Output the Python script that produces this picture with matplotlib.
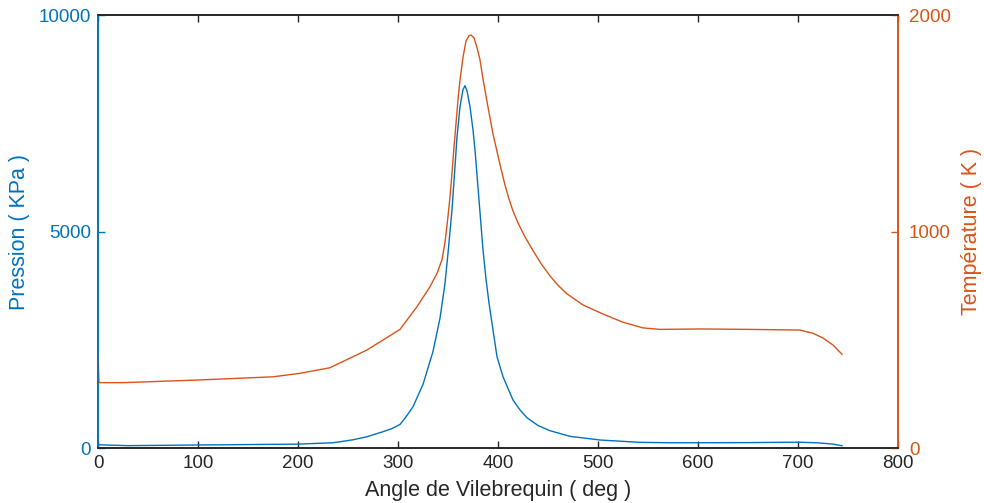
import matplotlib
matplotlib.use("Agg")
import matplotlib.pyplot as plt

plt.rcParams['font.family'] = ['Liberation Sans', 'DejaVu Sans']

# pression (kPa) vs angle
angle_p = [0, 30, 100, 200, 235, 255, 269, 285, 294, 302, 308, 315, 325, 335, 342, 347, 350, 354,
           357, 359, 362, 365, 367, 369, 372, 375, 377, 381, 385, 388, 391, 394, 399,
           405, 415, 422, 429, 440, 452, 472, 502, 542, 572, 600, 650, 700, 720, 735, 744]
pression = [75, 55, 70, 90, 122, 190, 261, 377, 450, 545, 720, 954, 1470, 2230, 3000, 3800, 4500, 5500,
            6500, 7191, 7884, 8280, 8369, 8250, 7884, 7346, 6884, 5729, 4574, 3900, 3350, 2880, 2109,
            1647, 1109, 880, 700, 520, 400, 270, 185, 131, 122, 122, 125, 135, 120, 90, 53]

# temperature (K) vs angle
angle_t = [0, 1, 25, 99, 175, 202, 232, 269, 285, 302, 319, 332, 339, 344, 347, 350,
           352, 354, 356, 358, 360, 362, 365, 368, 371, 373, 376, 379, 382, 385, 389,
           395, 399, 403, 407, 411, 415, 420, 427, 435, 443, 452, 460, 469, 485, 505, 525,
           545, 562, 602, 652, 702, 715, 725, 735, 744]
temperature = [434, 302, 302, 314, 329, 345, 371, 453, 499, 548, 653, 745, 807, 870, 950, 1070,
               1160, 1270, 1390, 1500, 1610, 1700, 1805, 1880, 1905, 1908, 1895, 1850, 1793, 1705, 1600,
               1450, 1370, 1290, 1215, 1150, 1095, 1040, 975, 912, 852, 795, 752, 712, 661, 619, 581,
               555, 548, 550, 548, 545, 530, 508, 476, 433]

blue = '#0072BD'
orange = '#D95319'
dark = '#262626'

fig = plt.figure(figsize=(9.84, 5.03), dpi=100)
ax = fig.add_axes([0.0996, 0.1093, 0.8130, 0.8607])
ax2 = ax.twinx()

ax.plot(angle_p, pression, color=blue, linewidth=1.0)
ax2.plot(angle_t, temperature, color=orange, linewidth=1.0)

ax.set_xlim(0, 800)
ax.set_ylim(0, 10000)
ax2.set_ylim(0, 2000)
ax.set_xticks(range(0, 801, 100))
ax.set_yticks([0, 5000, 10000])
ax2.set_yticks([0, 1000, 2000])

ax.tick_params(axis='x', direction='in', top=True, colors=dark, labelsize=13.5, length=5, width=1, pad=5)
ax.tick_params(axis='y', direction='in', colors=blue, labelsize=13.5, length=5, width=1, pad=5)
ax2.tick_params(axis='y', direction='in', colors=orange, labelsize=13.5, length=5, width=1, pad=8)

for a in (ax, ax2):
    a.spines['top'].set_color(dark)
    a.spines['bottom'].set_color(dark)
    a.spines['left'].set_color(blue)
    a.spines['right'].set_color(orange)
    for s in a.spines.values():
        s.set_linewidth(1.2)

ax.set_xlabel('Angle de Vilebrequin ( deg )', fontsize=15.5, color=dark, labelpad=6)
ax.set_ylabel('Pression ( KPa )', fontsize=15.5, color=blue, labelpad=6)
ax2.set_ylabel('Température ( K )', fontsize=15.5, color=orange, labelpad=7)

fig.savefig('out.png', dpi=100)
